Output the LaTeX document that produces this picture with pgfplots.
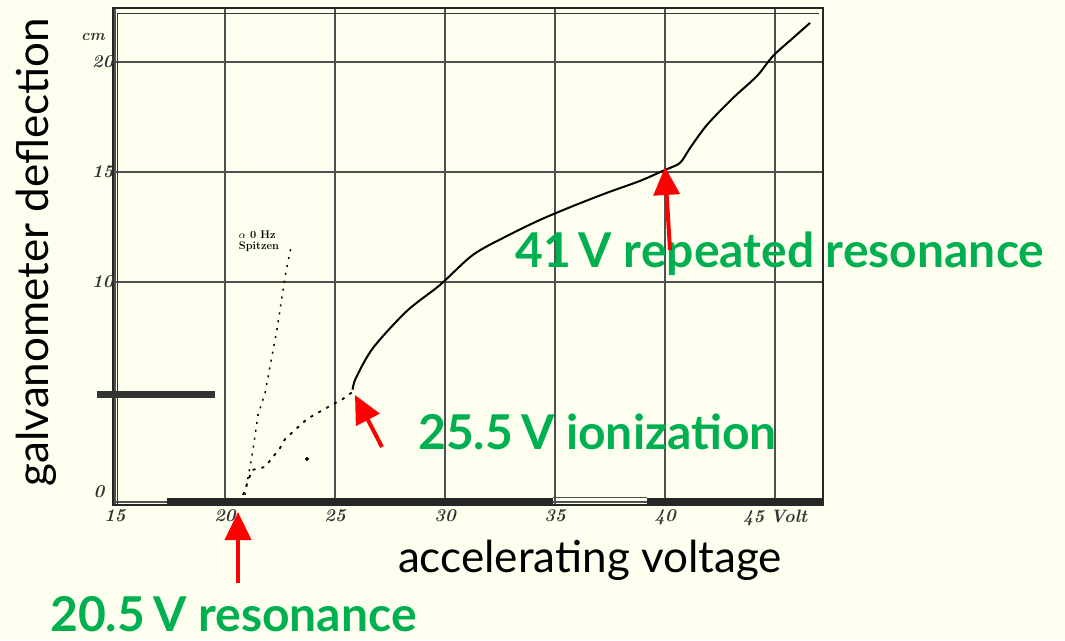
\documentclass[border=0pt]{standalone}
\usepackage{pgfplots}
\pgfplotsset{compat=1.18}
\usetikzlibrary{arrows.meta}
\usepackage{fontspec}
\newfontfamily\gill{Lato}
\definecolor{bg}{RGB}{255,255,240}
\definecolor{ggreen}{RGB}{0,176,80}
\definecolor{gridc}{RGB}{80,80,80}
\newcommand\tl[1]{\mbox{\fontsize{18}{18}\selectfont\bfseries\itshape #1}}
\begin{document}
\begin{tikzpicture}[x=1pt,y=1pt]
\path[use as bounding box, fill=bg] (0,0) rectangle (1065,640);
\begin{axis}[
  at={(113pt,135pt)}, anchor=south west,
  scale only axis, width=710pt, height=497pt,
  xmin=14.91, xmax=47.18, ymin=-0.14, ymax=22.45,
  axis line style={line width=2.8pt, black!85},
  grid=major, grid style={line width=1.7pt, gridc},
  xtick={15,20,25,30,35,40,45},
  xticklabels={\tl{15},\tl{20},\tl{25},\tl{30},\tl{35},\tl{40},\tl{45\,\,Volt}},
  ytick={0,10,15,20},
  yticklabels={{},\tl{10},\tl{15},\tl{20}},
  tick style={draw=none},
  xticklabel style={yshift=-1pt, black!80},
  yticklabel style={xshift=4pt, black!80},
]
% thick scan bars on the zero line
\addplot[black!85, line width=6pt, forget plot] coordinates {(17.36,0.02) (34.9,0.02)};
\addplot[black!85, line width=6pt, forget plot] coordinates {(39.18,0.02) (47.18,0.02)};
\addplot[black!70, line width=1pt, forget plot] coordinates {(34.9,0.18) (39.18,0.18)};
% inner double border
\addplot[black!80, line width=1.2pt, forget plot] coordinates {(15.1,-0.1) (15.1,22.2)};
\addplot[black!80, line width=1.2pt, forget plot] coordinates {(15.1,22.2) (47.0,22.2)};
% main measured curve
\addplot[black, line width=2pt, smooth] coordinates {
(25.80,5.10) (25.95,5.63) (26.73,7.00) (28.27,8.68) (29.77,9.86) (31.27,11.23)
(32.82,12.09) (34.32,12.82) (35.82,13.45) (37.36,14.05) (38.86,14.59)
(40.00,15.09) (40.68,15.41) (41.14,16.09) (41.91,17.14) (43.09,18.36)
(44.18,19.36) (44.91,20.27) (45.82,21.09) (46.59,21.77)};
% dotted lower branch
\addplot[black, line width=1.8pt, dash pattern=on 3pt off 6pt] coordinates {
(20.82,0.32) (21.23,1.45) (21.82,1.59) (22.50,2.45) (22.73,2.86)
(23.73,3.77) (24.77,4.36) (25.36,4.68) (25.80,5.00)};
% dotted steep branch
\addplot[black, line width=1.5pt, dash pattern=on 2pt off 6pt] coordinates {
(20.91,0.32) (21.27,2.36) (21.50,3.95) (21.82,4.95) (22.36,7.82)
(22.73,10.23) (22.95,11.36) (23.05,11.68)};
% isolated dot
\addplot[black, only marks, mark=*, mark size=1.8pt] coordinates {(23.73,1.95)};
\end{axis}
% left scan bar at 5 cm
\draw[black!80, line width=7pt] (97,245) -- (215,245);
% small labels
\node[font=\fontsize{16}{16}\selectfont\bfseries\itshape, black!80] at (93,603) {cm};
\node[font=\fontsize{18}{18}\selectfont\bfseries\itshape, black!80] at (99,148) {0};
\node[font=\fontsize{11}{11}\selectfont\bfseries, align=left] at (259,399) {$\alpha$ 0 Hz\\Spitzen};
% axis titles
\node[rotate=90, font=\gill\fontsize{44}{46}\selectfont] at (36,388) {galvanometer deflection};
\node[font=\gill\fontsize{44}{46}\selectfont, anchor=base] at (590,68) {accelerating voltage};
% annotations
\node[font=\gill\bfseries\fontsize{48}{50}\selectfont, text=ggreen, anchor=base west, inner sep=0pt] at (515,372) {41\,V repeated resonance};
\node[font=\gill\bfseries\fontsize{48}{50}\selectfont, text=ggreen, anchor=base west, inner sep=0pt] at (418,190) {25.5\,V ionization};
\node[font=\gill\bfseries\fontsize{48}{50}\selectfont, text=ggreen, anchor=base west, inner sep=0pt] at (50,9) {20.5\,V resonance};
\draw[red, line width=4pt, -{Triangle[length=28pt,width=26pt]}] (238,57) -- (238,128);
\draw[red, line width=4pt, -{Triangle[length=28pt,width=26pt]}] (382,193) -- (355,245);
\draw[red, line width=4pt, -{Triangle[length=28pt,width=26pt]}] (670,390) -- (665,473);
\end{tikzpicture}
\end{document}
